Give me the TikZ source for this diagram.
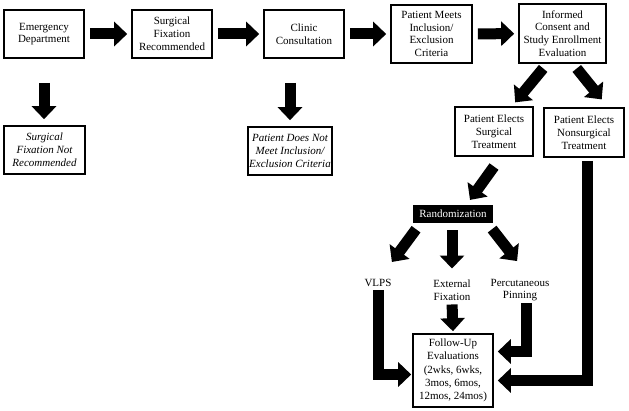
\documentclass[tikz,border=0pt]{standalone}
\usepackage{fontspec}
\setmainfont{Liberation Serif}
\usetikzlibrary{arrows.meta}
\begin{document}
\begin{tikzpicture}[x=1pt, y=-1pt,
    stage/.style ={draw, line width=1.6pt, align=center, inner sep=1pt,
      font=\fontsize{11}{12.8}\selectfont},
    outcome/.style ={stage, font=\fontsize{11}{12.8}\selectfont\itshape},
    choice/.style ={align=center, inner sep=1pt, font=\fontsize{11}{12.8}\selectfont},
    flow/.style ={line width=11pt, -{Triangle[length=13pt,width=24pt]},
      shorten <=5pt, shorten >=4pt}]
   \useasboundingbox (0,0) rectangle (629,411);

   % main line
   \node[stage, minimum width=80pt, minimum height=48pt] (ed)  at (44,34)  {Emergency\\Department};
   \node[stage, minimum width=80pt, minimum height=48pt] (sfr) at (172,34) {Surgical\\Fixation\\Recommended};
   \node[stage, minimum width=80pt, minimum height=48pt] (cc)  at (304,34) {Clinic\\Consultation};
   \node[stage, minimum width=81pt, minimum height=58pt] (pm)  at (431.5,34) {Patient Meets\\Inclusion/\\Exclusion\\Criteria};
   \node[stage, minimum width=87pt, minimum height=59pt] (ic)  at (562.5,33.5) {Informed\\Consent and\\Study Enrollment\\Evaluation};

   % exits
   \node[outcome, minimum width=81pt, minimum height=48pt] (sfnr) at (44.5,150) {Surgical\\Fixation Not\\Recommended};
   \node[outcome, minimum width=80pt, minimum height=48pt] (pdnm) at (290,151) {Patient Does Not\\Meet Inclusion/\\Exclusion Criteria};

   % treatment
   \node[stage, minimum width=78pt, minimum height=49pt] (pes) at (494,131.5) {Patient Elects\\Surgical\\Treatment};
   \node[stage, minimum width=80pt, minimum height=49pt] (pen) at (584,132.5) {Patient Elects\\Nonsurgical\\Treatment};
   \node[choice, fill=black, text=white, minimum width=80pt, minimum height=18pt] (rand) at (453,214) {Randomization};
   \node[choice] (vlps) at (378,283) {VLPS};
   \node[choice] (ext)  at (452,290) {External\\Fixation};
   \node[choice] (perc) at (520,290) {Percutaneous\\Pinning};
   \node[stage, minimum width=80pt, minimum height=73pt, font=\fontsize{11}{13.3}\selectfont] (fu) at (453,370.5)
     {Follow-Up\\Evaluations\\(2wks, 6wks,\\3mos, 6mos,\\12mos, 24mos)};

   \draw[flow] (ed) to (sfr);
   \draw[flow] (sfr) to (cc);
   \draw[flow] (cc) to (pm);
   \draw[flow] (pm) to (ic);
   \draw[flow, shorten <=24pt, shorten >=6pt] (ed.south) to (ed.south |- sfnr.north);
   \draw[flow, shorten <=24pt, shorten >=6pt] (cc.south -| pdnm.north) to (pdnm.north);

   \draw[flow, shorten <=6pt, shorten >=5pt] ([xshift=-15.5pt]ic.south) to ([xshift=18pt]pes.north);
   \draw[flow, shorten <=6pt, shorten >=10pt] ([xshift=10.5pt]ic.south) to ([xshift=24pt]pen.north);
   \draw[flow, shorten <=12pt, shorten >=6pt] ([xshift=7pt]pes.south) to ([xshift=13.5pt]rand.north);

   \draw[flow, shorten <=7.5pt, shorten >=20pt] ([xshift=-32.5pt]rand.south) to ([xshift=2pt]vlps.north);
   \draw[flow, shorten <=7pt, shorten >=10pt] (rand.south -| ext.north) to (ext.north);
   \draw[flow, shorten <=7.5pt, shorten >=21pt] ([xshift=34.5pt]rand.south) to ([xshift=10pt]perc.north);

   \draw[flow, shorten <=3pt, shorten >=2pt] (ext.south) to (fu.north);
   \draw[flow, shorten <=2pt, shorten >=1pt] (vlps.south) |- ([yshift=-4pt]fu.west);
   \draw[flow, shorten <=1pt, shorten >=4pt] ([xshift=6pt]perc.south) |- ([yshift=19pt]fu.east);
   \draw[flow, shorten <=3pt, shorten >=4pt] ([xshift=3pt]pen.south) |- ([yshift=-10pt]fu.east);

 \end{tikzpicture}
\end{document}
